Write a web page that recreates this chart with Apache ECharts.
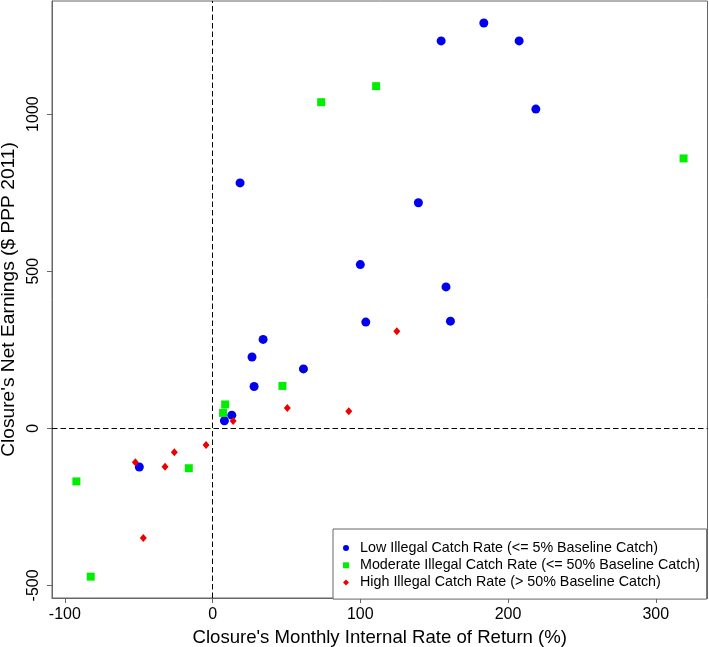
<!DOCTYPE html>
<html>
<head>
<meta charset="utf-8">
<script src="https://cdn.jsdelivr.net/npm/echarts@6/dist/echarts.min.js"></script>
<style>html,body{margin:0;padding:0;background:#fff}#c{width:709px;height:647px}</style>
</head>
<body>
<div id="c"></div>
<script>
const lowData = [[183.6,1290],[154.7,1233],[207.5,1233],[218.8,1016],[139.3,718],[100,521],[158,450],[103.7,338],[161,341],[18.6,781],[34.2,283],[26.7,227],[61.5,189],[28.1,133],[13,42],[8,24],[-49.6,-123]];
const modData = [[73.5,1038],[110.7,1089],[318.8,859],[47.3,135],[8.5,76],[7.1,49],[-16.1,-127],[-92.2,-169],[-82.5,-472]];
const highData = [[124.7,309],[92.2,54],[50.6,65],[13.9,23],[-4.4,-53],[-25.9,-76],[-32.2,-122],[-52.3,-108],[-46.9,-349]];
const xTicks = [-100,0,100,200,300];
const yTicks = [-500,0,500,1000];
const seriesNames = ['Low Illegal Catch Rate (<= 5% Baseline Catch)','Moderate Illegal Catch Rate (<= 50% Baseline Catch)','High Illegal Catch Rate (> 50% Baseline Catch)'];
const xTitle = "Closure's Monthly Internal Rate of Return (%)";
const yTitle = "Closure's Net Earnings ($ PPP 2011)";

const FONT = 'Liberation Sans, Arial, sans-serif';
const chart = echarts.init(document.getElementById('c'));
chart.setOption({
  animation: false,
  backgroundColor: '#fff',
  textStyle: {fontFamily: FONT},
  grid: {left: 52, right: 1.5, top: 1, bottom: 49, outerBoundsMode: 'none', containLabel: false,
         show: true, borderColor: '#666', borderWidth: 1, backgroundColor: 'transparent'},
  xAxis: {
    type: 'value', min: -108.7, max: 335,
    axisLine: {show: true, onZero: false, lineStyle: {color: '#666'}},
    axisTick: {show: true, length: 5, customValues: xTicks, lineStyle: {color: '#666'}},
    axisLabel: {customValues: xTicks, fontSize: 16, color: '#000', margin: 9, fontFamily: FONT},
    splitLine: {show: false},
    name: xTitle, nameLocation: 'middle', nameGap: 27,
    nameTextStyle: {fontSize: 18.6, color: '#000', fontFamily: FONT}
  },
  yAxis: {
    type: 'value', min: -540, max: 1360,
    axisLine: {show: true, onZero: false, lineStyle: {color: '#666'}},
    axisTick: {show: true, length: 5, customValues: yTicks, lineStyle: {color: '#666'}},
    axisLabel: {customValues: yTicks, fontSize: 16, color: '#000', margin: 10, rotate: 90, fontFamily: FONT,
                formatter: v => String(v)},
    splitLine: {show: false},
    name: yTitle, nameLocation: 'middle', nameGap: 31, nameRotate: 90,
    nameTextStyle: {fontSize: 19.2, color: '#000', fontFamily: FONT}
  },
  legend: {
    orient: 'vertical', left: 333, top: 529,
    padding: [10.5, 6.5, 8, 10],
    itemWidth: 6, itemHeight: 6, itemGap: 0,
    borderColor: '#666', borderWidth: 1, backgroundColor: '#fff',
    textStyle: {fontSize: 14.3, color: '#000', lineHeight: 17.2, padding: [0, 0, 0, 6], fontFamily: FONT},
    data: seriesNames
  },
  series: [
    {name: seriesNames[0], type: 'scatter', data: lowData, symbol: 'circle', symbolSize: 9, itemStyle: {color: '#0000ee', opacity: 1}, z: 3,
     markLine: {silent: true, symbol: 'none', label: {show: false}, lineStyle: {color: '#000', type: [5.5, 3], width: 1},
       data: [{xAxis: 0}, {yAxis: 0}]}},
    {name: seriesNames[1], type: 'scatter', data: modData, symbol: 'rect', symbolSize: 8, itemStyle: {color: '#00ee00', opacity: 1}, z: 3},
    {name: seriesNames[2], type: 'scatter', data: highData, symbol: 'diamond', symbolSize: [7, 8], itemStyle: {color: '#ee0000', opacity: 1}, z: 3}
  ]
});
</script>
</body>
</html>
